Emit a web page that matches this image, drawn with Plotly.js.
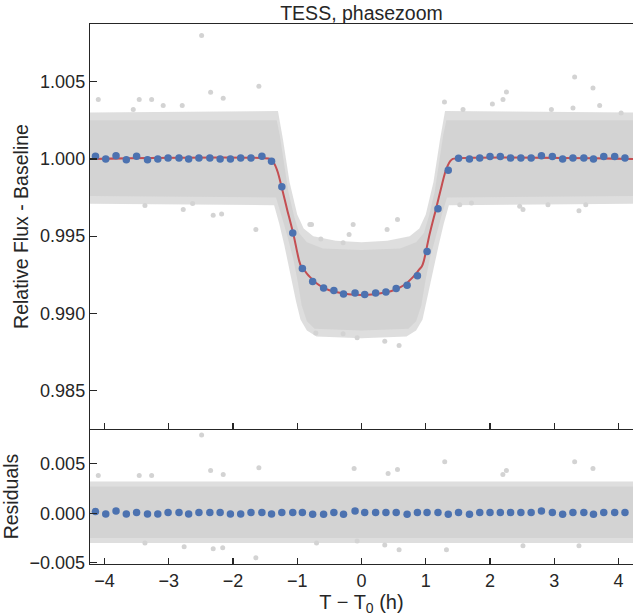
<!DOCTYPE html>
<html>
<head>
<meta charset="utf-8">
<script src="https://cdn.plot.ly/plotly-3.0.1.min.js"></script>
<style>html,body{margin:0;padding:0;background:#fff;}#chart{width:633px;height:616px;}</style>
</head>
<body>
<div id="chart"></div>
<script>
// ---------- data ----------
// binned light curve (blue points)
const binX = [-4.14,-3.98,-3.82,-3.66,-3.50,-3.33,-3.17,-3.01,-2.84,-2.69,-2.53,-2.36,-2.20,-2.04,-1.88,-1.72,-1.55,
  -1.40,-1.24,-1.07,-0.92,-0.76,-0.59,-0.43,-0.28,-0.10,0.05,0.22,0.38,0.54,0.71,0.87,1.02,1.19,
  1.35,1.51,1.68,1.84,2.00,2.16,2.32,2.48,2.64,2.80,2.97,3.13,3.29,3.46,3.61,3.77,3.94,4.10];
const binFlux = [1.00017,1.00000,1.00021,0.99994,1.00017,0.99994,1.00000,1.00006,1.00006,1.00000,1.00006,1.00006,1.00000,1.00000,1.00006,1.00006,1.00017,
  0.99984,0.99819,0.99521,0.99290,0.99206,0.99164,0.99148,0.99126,0.99132,0.99122,0.99132,0.99139,0.99161,0.99182,0.99243,0.99400,0.99678,
  0.99926,1.00004,1.00000,1.00006,1.00015,1.00015,1.00006,1.00006,1.00006,1.00021,1.00015,1.00000,1.00006,1.00006,1.00000,1.00015,1.00015,1.00006];
const binResid = [0.00016,-0.00007,0.00023,-0.00007,0.00006,-0.00007,-0.00007,0.00006,0.00006,-0.00007,0.00006,0.00006,0.00006,-0.00007,-0.00007,0.00006,0.00006,-0.00007,0.00006,0.00006,0.00006,
  -0.0001,-0.0001,0.00006,-0.0001,0.00023,0.00006,0.00006,0.00006,0.00006,-0.0001,0.00006,0.00006,0.00006,-0.0001,0.00006,-0.0001,0.00006,0.00006,0.00006,0.00006,0.00006,0.00006,0.00023,0.00006,-0.0001,0.00006,0.00006,-0.0001,0.00006,0.00006,0.00006];

// transit model (red line)
const modelX = [-4.225,-1.42,-1.38,-1.34,-1.30,-1.25,-1.20,-1.15,-1.10,-1.05,-1.00,-0.97,-0.94,-0.90,-0.85,-0.80,-0.70,-0.60,-0.50,-0.40,-0.30,-0.20,-0.10,0.00,
  0.10,0.20,0.30,0.40,0.50,0.60,0.70,0.80,0.85,0.90,0.94,0.97,1.00,1.05,1.10,1.15,1.20,1.25,1.30,1.34,1.38,1.42,4.225];
const modelY = [1.00000,1.00000,0.99985,0.99955,0.99910,0.99830,0.99745,0.99660,0.99580,0.99495,0.99395,0.99340,0.99305,0.99285,0.99258,0.99235,0.99195,0.99168,0.99150,0.99138,0.99130,0.99124,0.99121,0.99120,
  0.99121,0.99124,0.99130,0.99138,0.99150,0.99168,0.99195,0.99235,0.99258,0.99285,0.99305,0.99340,0.99395,0.99495,0.99580,0.99660,0.99745,0.99830,0.99910,0.99955,0.99985,1.00000,1.00000];

// dense cloud of unbinned points: upper / lower envelopes
const coreUpX = [-4.225,-1.32,-1.27,-1.22,-1.14,-1.05,-0.97,-0.85,-0.60,0.00,0.60,0.85,0.97,1.05,1.14,1.22,1.27,1.32,4.225];
const coreUpY = [1.0025,1.0025,1.0015,1.0001,0.9979,0.9963,0.9952,0.9946,0.9942,0.9941,0.9942,0.9946,0.9952,0.9963,0.9979,1.0001,1.0015,1.0025,1.0025];
const coreLoX = [-4.225,-1.33,-1.25,-1.16,-1.06,-0.99,-0.93,-0.85,-0.73,0.00,0.73,0.85,0.93,0.99,1.06,1.16,1.25,1.33,4.225];
const coreLoY = [0.9976,0.9975,0.9964,0.9951,0.9935,0.9920,0.9905,0.9895,0.9890,0.9889,0.9890,0.9895,0.9905,0.9920,0.9935,0.9951,0.9964,0.9975,0.9976];
const fringeUpX = [-4.225,-1.30,-1.22,-1.12,-1.00,-0.90,-0.75,-0.40,0.00,0.40,0.75,0.90,1.00,1.12,1.22,1.30,4.225];
const fringeUpY = [1.0030,1.0031,1.0012,0.9985,0.9964,0.9955,0.9950,0.9947,0.9946,0.9947,0.9950,0.9955,0.9964,0.9985,1.0012,1.0031,1.0030];
const fringeLoX = [-4.225,-1.36,-1.28,-1.20,-1.10,-1.02,-0.95,-0.85,-0.70,0.00,0.70,0.85,0.95,1.02,1.10,1.20,1.28,1.36,4.225];
const fringeLoY = [0.9971,0.9970,0.9958,0.9944,0.9925,0.9908,0.9896,0.9889,0.9885,0.9884,0.9885,0.9889,0.9896,0.9908,0.9925,0.9944,0.9958,0.9970,0.9971];

// scattered individual outliers (top panel)
const outX = [-2.488,-2.348,-1.597,-4.096,-3.459,-3.266,-2.152,-3.086,-2.790,-3.552,
  3.317,3.602,2.255,2.202,2.037,1.291,1.580,2.955,3.291,3.706,4.040,
  -2.774,-3.370,-2.308,-2.177,-1.644,-2.628,1.529,1.711,2.462,2.513,2.902,3.384,3.490,
  0.585,0.362,-0.068,-0.711,-0.286,-0.130,0.560,0.398,-0.193,-0.286,-0.633,-0.778,-0.804];
const outY = [1.00798,1.00431,1.00470,1.00384,1.00384,1.00384,1.00392,1.00345,1.00345,1.00319,
  1.00530,1.00459,1.00433,1.00384,1.00356,1.00369,1.00319,1.00319,1.00330,1.00345,1.00297,
  0.99672,0.99698,0.99635,0.99644,0.99543,0.99711,0.99704,0.99715,0.99693,0.99672,0.99704,0.99665,0.99704,
  0.98792,0.98820,0.98842,0.98874,0.98868,0.99575,0.99607,0.99543,0.99510,0.99457,0.99482,0.99575,0.99575];

// residual cloud
const resBandX = [-4.225,4.225];
const resCoreUp = [0.0027,0.0027];
const resCoreLo = [-0.0025,-0.0025];
const resFringeUp = [0.0032,0.0032];
const resFringeLo = [-0.0030,-0.0030];
const resOutX = [-2.488,-1.597,-2.348,-2.152,-4.096,-3.266,-3.459,-1.644,-2.760,-2.308,-2.160,-3.370,
  3.317,1.295,3.602,2.255,-0.115,0.560,0.414,2.200,0.585,1.322,0.362,-0.068,3.384,2.513,-0.700];
const resOutY = [0.0079,0.0046,0.0043,0.0039,0.0038,0.0038,0.0038,-0.0045,-0.0034,-0.0036,-0.0035,-0.0030,
  0.0052,0.0052,0.0045,0.0043,0.0045,0.0044,0.0040,0.0039,-0.0037,-0.0037,-0.0032,-0.0028,-0.0033,-0.0033,-0.0030];

const topTicks = [0.985,0.990,0.995,1.000,1.005];
const resTicks = [-0.005,0.000,0.005];
const xTicks = [-4,-3,-2,-1,0,1,2,3,4];

// ---------- styling ----------
const GRAY = '#d3d3d3', BLUE = '#4c72b0', RED = '#c44e52', INK = '#262626';

function band(upX, upY, loX, loY, xa, ya, opacity) {
  return {
    type: 'scatter', mode: 'lines', xaxis: xa, yaxis: ya,
    x: upX.concat(loX.slice().reverse()),
    y: upY.concat(loY.slice().reverse()),
    fill: 'toself', fillcolor: GRAY, opacity: opacity,
    line: {width: 0, color: GRAY}, hoverinfo: 'skip', showlegend: false
  };
}

const traces = [
  band(fringeUpX, fringeUpY, fringeLoX, fringeLoY, 'x2', 'y2', 0.75),
  band(coreUpX, coreUpY, coreLoX, coreLoY, 'x2', 'y2', 1),
  {type:'scatter', mode:'markers', xaxis:'x2', yaxis:'y2', x: outX, y: outY,
   marker:{color:GRAY, size:5}, showlegend:false},
  {type:'scatter', mode:'lines', xaxis:'x2', yaxis:'y2', x: modelX, y: modelY,
   line:{color:RED, width:2, shape:'spline', smoothing:0.6}, showlegend:false},
  {type:'scatter', mode:'markers', xaxis:'x2', yaxis:'y2', x: binX, y: binFlux,
   marker:{color:BLUE, size:7.5}, showlegend:false},

  band(resBandX, resFringeUp, resBandX, resFringeLo, 'x', 'y', 0.75),
  band(resBandX, resCoreUp, resBandX, resCoreLo, 'x', 'y', 1),
  {type:'scatter', mode:'markers', xaxis:'x', yaxis:'y', x: resOutX, y: resOutY,
   marker:{color:GRAY, size:5}, showlegend:false},
  {type:'scatter', mode:'markers', xaxis:'x', yaxis:'y', x: binX, y: binResid,
   marker:{color:BLUE, size:7.5}, showlegend:false}
];

const axisCommon = {
  showgrid:false, zeroline:false, showline:true, linecolor:INK, linewidth:1.25,
  ticks:'inside', tickcolor:INK, tickwidth:1.25
};

const layout = {
  width:633, height:616,
  margin:{l:90, r:0, t:24, b:52, pad:0},
  paper_bgcolor:'#ffffff', plot_bgcolor:'#ffffff',
  font:{family:'"Liberation Sans", Arial, sans-serif', size:18, color:INK},
  showlegend:false,
  title:{text:'TESS, phasezoom', x:0.5, xref:'paper', xanchor:'center',
         y:1, yref:'paper', yanchor:'bottom', pad:{b:4}, font:{size:19.5, color:INK}},
  xaxis: Object.assign({}, axisCommon, {
    domain:[0,1], anchor:'y', range:[-4.225,4.225], tickvals:xTicks, ticklen:6,
    title:{text:'T − T<sub>0</sub> (h)', standoff:4, font:{size:20}}
  }),
  xaxis2: Object.assign({}, axisCommon, {
    domain:[0,1], anchor:'y2', matches:'x', range:[-4.225,4.225], tickvals:xTicks, ticklen:6,
    showticklabels:false, mirror:true
  }),
  yaxis: Object.assign({}, axisCommon, {
    domain:[0,0.25], anchor:'x', range:[-0.00513,0.0085], tickvals:resTicks, tickformat:'.3f', ticklen:7,
    title:{text:'Residuals', standoff:6, font:{size:19.5}}
  }),
  yaxis2: Object.assign({}, axisCommon, {
    domain:[0.25,1], anchor:'x2', range:[0.98252,1.00873], tickvals:topTicks, tickformat:'.3f', ticklen:7,
    title:{text:'Relative Flux - Baseline', standoff:6, font:{size:19.5}}
  })
};

Plotly.newPlot('chart', traces, layout, {staticPlot:true, displayModeBar:false});
</script>
</body>
</html>
